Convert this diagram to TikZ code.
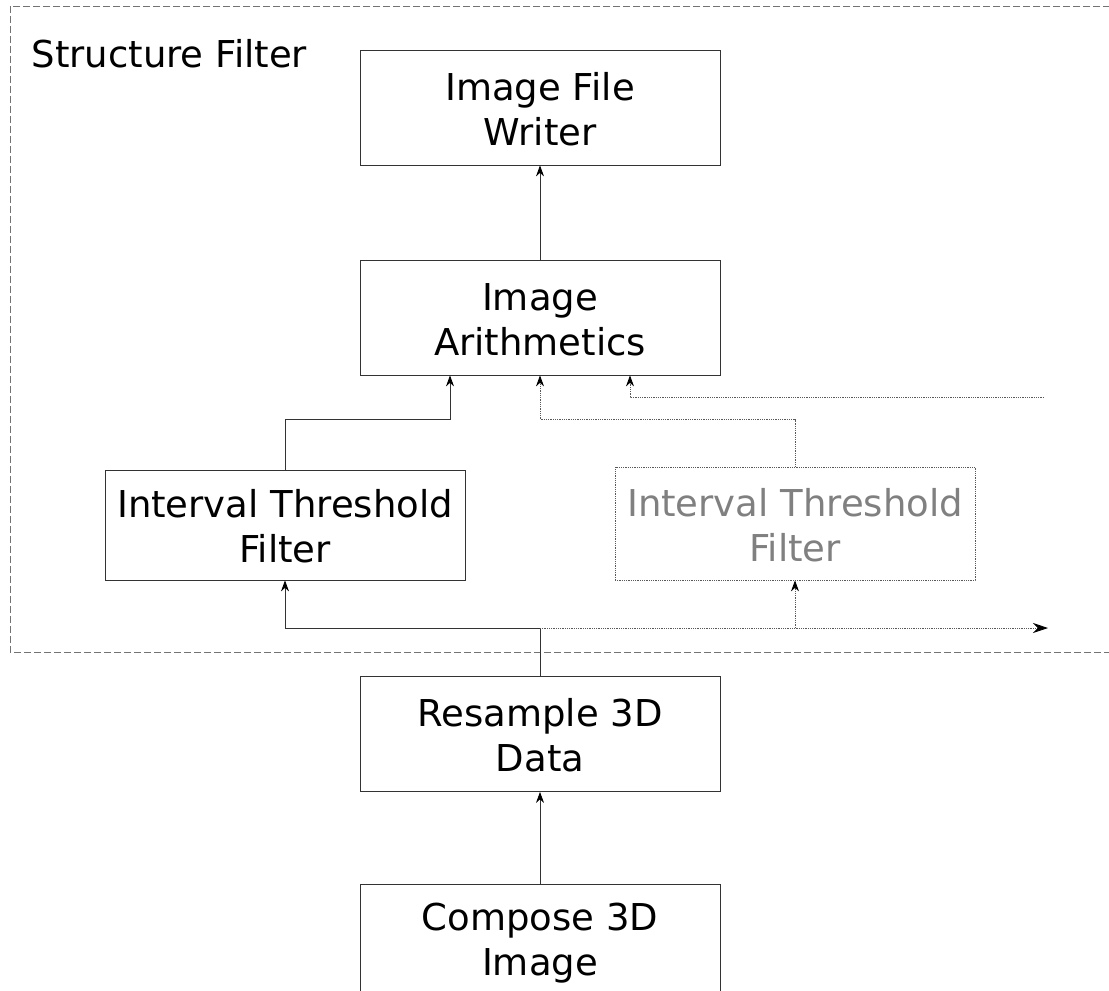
\documentclass[tikz,border=0pt]{standalone}
\usepackage{fontspec}
\setmainfont{DejaVu Sans}
\usetikzlibrary{arrows.meta}
\begin{document}
\begin{tikzpicture}[x=1pt,y=-1pt,
  box/.style={draw=black!80, line width=0.8pt, minimum width=360pt, minimum height=115pt, align=center, font=\fontsize{37}{45}\selectfont, inner sep=0pt},
  ghost/.style={box, draw=black!65, densely dotted, text=black!50},
  conn/.style={draw=black!80, line width=0.8pt, -{Stealth[length=11pt,width=8pt,color=black]}},
  dconn/.style={conn, densely dotted, draw=black!65},
  bigtip/.style={-{Stealth[length=15pt,width=10pt,color=black]}},
  frame/.style={draw=black!55, dash pattern=on 7pt off 3pt, line width=0.8pt}]
\clip (0,0) rectangle (1109,991);
\draw[frame] (1130,6) -| (10,652) -- (1130,652);
\node[anchor=base west, font=\fontsize{37}{45}\selectfont] (title) at (28,67) {Structure Filter};
\node[box] (writer) at (540,107.5) {\rule{0pt}{31pt}Image File\\Writer};
\node[box] (arith) at (540,317.5) {\rule{0pt}{31pt}Image\\Arithmetics};
\node[box, minimum height=110pt] (itfL) at (285,525) {\rule{0pt}{31pt}Interval Threshold\\Filter};
\node[ghost, minimum height=113pt] (itfR) at (795,523.5) {\rule{0pt}{31pt}Interval Threshold\\Filter};
\node[box] (resample) at (540,734) {\rule{0pt}{31pt}Resample 3D\\Data};
\node[box] (compose) at (540,941.5) {\rule{0pt}{31pt}Compose 3D\\Image};
\coordinate (aL) at ([xshift=-90pt]arith.south);
\coordinate (aR) at ([xshift=90pt]arith.south);
\coordinate (ext) at (1044,397);
\coordinate (split) at (540,628);
\coordinate (out) at (1048,628);
\draw[conn] (arith.north) -- (writer.south);
\draw[conn] (itfL.north) -- ++(0,-50) -| (aL);
\draw[dconn] (itfR.north) -- ++(0,-47) -| (arith.south);
\draw[dconn] (ext) -| (aR);
\draw[conn] (resample.north) -- (split) -| (itfL.south);
\draw[dconn, bigtip] (split) -- (out);
\draw[dconn] (itfR.south |- split) -- (itfR.south);
\draw[conn] (compose.north) -- (resample.south);
\end{tikzpicture}
\end{document}
